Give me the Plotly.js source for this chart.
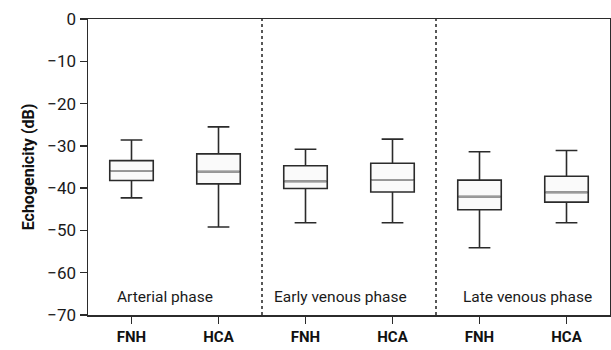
<!DOCTYPE html>
<html>
<head>
<meta charset="utf-8">
<script src="https://cdn.plot.ly/plotly-3.0.1.min.js"></script>
<style>html,body{margin:0;padding:0;background:#fff;}#chart{width:611px;height:350px;}</style>
</head>
<body>
<div id="chart"></div>
<script>
// Data
const categories = ["FNH", "HCA", "FNH", "HCA", "FNH", "HCA"];
const phases = ["Arterial phase", "Early venous phase", "Late venous phase"];
const upperWhisker = [-28.6, -25.5, -30.8, -28.4, -31.4, -31.1];
const q3Values     = [-33.5, -31.9, -34.7, -34.1, -38.1, -37.2];
const medianValues = [-35.9, -36.1, -38.4, -38.0, -42.0, -41.0];
const q1Values     = [-38.2, -39.0, -40.1, -40.9, -45.1, -43.3];
const lowerWhisker = [-42.3, -49.2, -48.2, -48.2, -54.1, -48.2];
const yTicks = [0, -10, -20, -30, -40, -50, -60, -70];

const FONT = "Roboto, 'Liberation Sans', sans-serif";
const DARK = "#2b2b2b";
const pos = categories.map((_, i) => i);

const boxTrace = {
  type: "box",
  x: pos,
  q1: q1Values,
  median: medianValues,
  q3: q3Values,
  lowerfence: lowerWhisker,
  upperfence: upperWhisker,
  width: 0.5,
  whiskerwidth: 0.5,
  fillcolor: "#fafafa",
  line: {color: DARK, width: 1.6},
  boxpoints: false,
  hoverinfo: "skip",
  showlegend: false
};

// grey median lines drawn over the box medians
const medX = [], medY = [];
pos.forEach((p, i) => { medX.push(p - 0.24, p + 0.24, null); medY.push(medianValues[i], medianValues[i], null); });
const medianTrace = {
  type: "scatter", mode: "lines", x: medX, y: medY,
  line: {color: "#9a9a9a", width: 1.6}, hoverinfo: "skip", showlegend: false
};

const groupStarts = [-0.5, 1.5, 3.5];
const labelOffsets = [0.31, 0.12, 0.285];
const annotations = phases.map((t, i) => ({
  x: groupStarts[i] + labelOffsets[i], y: -65.7, xref: "x", yref: "y",
  text: t, showarrow: false, xanchor: "left", yanchor: "middle",
  font: {family: FONT, size: 15.5, color: "#1a1a1a"}
}));

const shapes = [1.5, 3.5].map(xv => ({
  type: "line", xref: "x", yref: "paper", x0: xv, x1: xv, y0: 0, y1: 1,
  line: {color: "#222", width: 1.5, dash: "dot"}
}));

const layout = {
  width: 611, height: 350,
  margin: {l: 88, r: 1, t: 19, b: 35},
  paper_bgcolor: "#fff", plot_bgcolor: "#fff",
  font: {family: FONT, size: 15, color: "#1a1a1a"},
  xaxis: {
    range: [-0.5, 5.5], tickvals: pos, ticktext: categories.map(c => "<b>" + c + "</b>"),
    ticks: "outside", ticklen: 7, tickwidth: 1.5, tickcolor: DARK,
    showline: true, linecolor: DARK, linewidth: 1.5, mirror: true,
    showgrid: false, zeroline: false, fixedrange: true,
    tickfont: {family: FONT, size: 15, color: "#111"}
  },
  yaxis: {
    range: [-70, 0], tickvals: yTicks,
    ticks: "outside", ticklen: 7, tickwidth: 1.5, tickcolor: DARK,
    showline: true, linecolor: DARK, linewidth: 1.5, mirror: true,
    showgrid: false, zeroline: false, fixedrange: true,
    tickfont: {family: FONT, size: 17, color: "#1a1a1a"},
    title: {text: "<b>Echogenicity (dB)</b>", font: {family: FONT, size: 16, color: "#111"}, standoff: 8}
  },
  shapes: shapes,
  annotations: annotations,
  showlegend: false
};

Plotly.newPlot("chart", [boxTrace, medianTrace], layout, {displayModeBar: false, staticPlot: true});
</script>
</body>
</html>
